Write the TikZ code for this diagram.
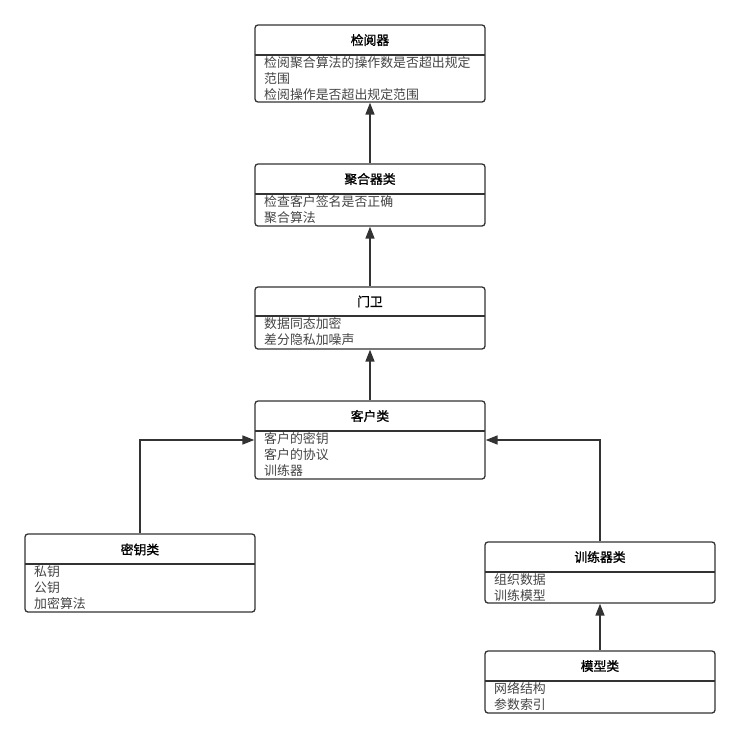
\documentclass[tikz,border=0pt]{standalone}
\usepackage{fontspec}
\setmainfont{Noto Sans CJK SC}
\newfontfamily\titlefont{Noto Sans CJK SC}[FakeBold=1.2]
\usepackage{tikz}
\usetikzlibrary{arrows.meta, positioning}
\definecolor{LineGray}{HTML}{333333}
\definecolor{ItemGray}{HTML}{444444}

\tikzset{
  classbox/.style={draw=LineGray, line width=1.3pt, rounded corners=3pt, minimum width=230pt, inner sep=0pt},
  sepline/.style={draw=LineGray, line width=1.3pt},
  titletext/.style={font=\titlefont\fontsize{12.8}{15}\selectfont, text=black, inner sep=0pt},
  itemtext/.style={font=\fontsize{12.9}{16}\selectfont, text=ItemGray, align=left, anchor=north west, inner sep=0pt},
  arrowline/.style={draw=LineGray, line width=1.6pt, -{Triangle[width=9pt,length=12pt]}}
}

\begin{document}
\begin{tikzpicture}[x=1pt, y=-1pt]
        \useasboundingbox (0,0) rectangle (740,737);
        % checker
        \node[classbox, minimum height=77pt] (checker) at (370,63.5) {};
        \node[titletext] (checkerTitle) at (370,40) {检阅器};
        \draw[sepline] (255,55) -- (485,55);
        \node[itemtext] (checkerItems) at (264,56) {检阅聚合算法的操作数是否超出规定\\范围\\检阅操作是否超出规定范围};
        % aggregator
        \node[classbox, minimum height=62pt] (aggregator) at (370,195) {};
        \node[titletext] (aggregatorTitle) at (370,179) {聚合器类};
        \draw[sepline] (255,194) -- (485,194);
        \node[itemtext] (aggregatorItems) at (264,195) {检查客户签名是否正确\\聚合算法};
        % gatekeeper
        \node[classbox, minimum height=62pt] (gatekeeper) at (370,318) {};
        \node[titletext] (gatekeeperTitle) at (370,301.5) {门卫};
        \draw[sepline] (255,316) -- (485,316);
        \node[itemtext] (gatekeeperItems) at (264,317) {数据同态加密\\差分隐私加噪声};
        % client
        \node[classbox, minimum height=78pt] (client) at (370,440) {};
        \node[titletext] (clientTitle) at (370,416) {客户类};
        \draw[sepline] (255,431) -- (485,431);
        \node[itemtext] (clientItems) at (264,432) {客户的密钥\\客户的协议\\训练器};
        % keys
        \node[classbox, minimum height=78pt] (keys) at (140,573) {};
        \node[titletext] (keysTitle) at (140,549.5) {密钥类};
        \draw[sepline] (25,564) -- (255,564);
        \node[itemtext] (keysItems) at (34,565) {私钥\\公钥\\加密算法};
        % trainer
        \node[classbox, minimum height=61pt] (trainer) at (600,572.5) {};
        \node[titletext] (trainerTitle) at (600,557) {训练器类};
        \draw[sepline] (485,572) -- (715,572);
        \node[itemtext] (trainerItems) at (494,573) {组织数据\\训练模型};
        % model
        \node[classbox, minimum height=62pt] (model) at (600,682) {};
        \node[titletext] (modelTitle) at (600,666) {模型类};
        \draw[sepline] (485,681) -- (715,681);
        \node[itemtext] (modelItems) at (494,682) {网络结构\\参数索引};
        % arrows
        \draw[arrowline] (aggregator.north) -- (checker.south);
        \draw[arrowline] (gatekeeper.north) -- (aggregator.south);
        \draw[arrowline] (client.north) -- (gatekeeper.south);
        \draw[arrowline] (keys.north) |- (client.west);
        \draw[arrowline] (trainer.north) |- (client.east);
        \draw[arrowline] (model.north) -- (trainer.south);
    \end{tikzpicture}
\end{document}
